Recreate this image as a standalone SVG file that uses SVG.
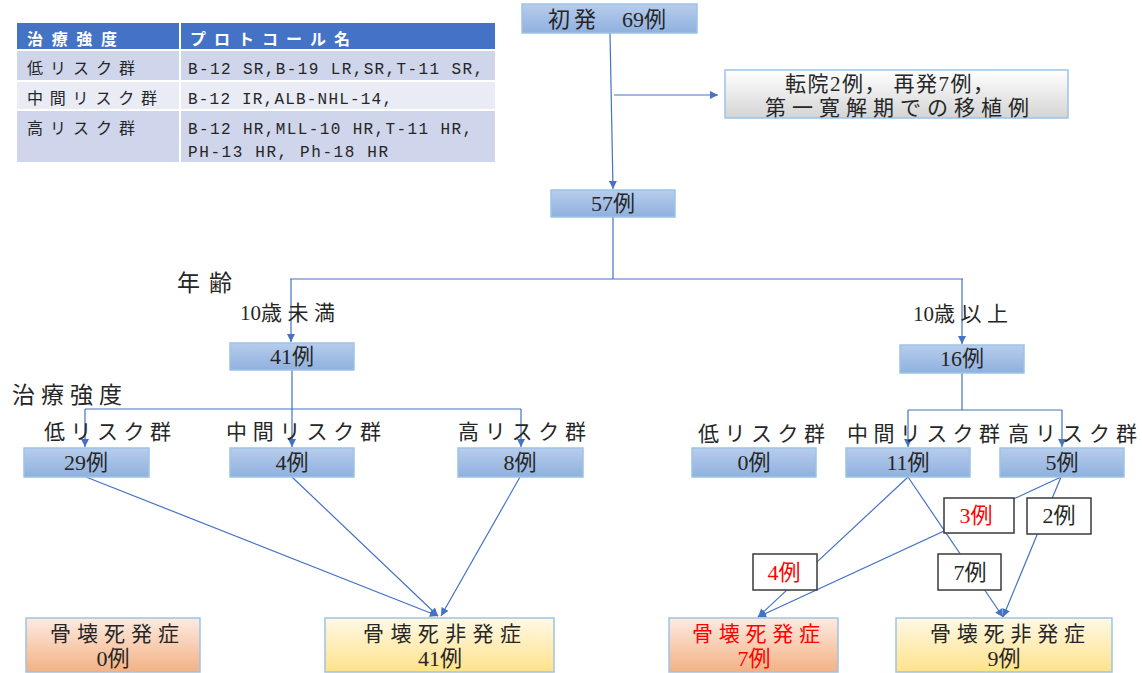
<svg xmlns="http://www.w3.org/2000/svg" width="1142" height="673" viewBox="0 0 1142 673">
<style>
.t{font-family:"Liberation Serif","Noto Sans CJK JP",serif;fill:#262626;font-size:21px}
.n{font-size:22px}
.m{text-anchor:middle}
.r{fill:#FF0000}
.th{font-family:"Noto Sans CJK JP",sans-serif;font-size:16px;fill:#fff;font-weight:bold}
.tc{font-family:"Noto Sans CJK JP",sans-serif;font-size:16px;fill:#262626}
.tm{font-family:"Liberation Mono",monospace;font-size:16px;fill:#262626}
.bn{fill:url(#gB);stroke:#9DC3E6;stroke-width:1.5}
.c{stroke:#4472C4;stroke-width:1.2;fill:none}
.ca{stroke:#4472C4;stroke-width:1.2;fill:none;marker-end:url(#ah)}
.lb{fill:#fff;stroke:#3a3a3a;stroke-width:1.5}
</style>
<defs>
<linearGradient id="gB" x1="0" y1="0" x2="0" y2="1"><stop offset="0" stop-color="#B7CDEC"/><stop offset="1" stop-color="#8FB0DE"/></linearGradient>
<linearGradient id="gG" x1="0" y1="0" x2="0" y2="1"><stop offset="0" stop-color="#FFFFFF"/><stop offset="1" stop-color="#D4D4D4"/></linearGradient>
<linearGradient id="gO" x1="0" y1="0" x2="0" y2="1"><stop offset="0" stop-color="#FCEBE2"/><stop offset="1" stop-color="#F4B183"/></linearGradient>
<linearGradient id="gY" x1="0" y1="0" x2="0" y2="1"><stop offset="0" stop-color="#FFF9E6"/><stop offset="1" stop-color="#FFE28A"/></linearGradient>
<marker id="ah" viewBox="0 0 10 10" refX="10" refY="5" markerWidth="9" markerHeight="8" markerUnits="userSpaceOnUse" orient="auto"><path d="M0,0 L10,5 L0,10 z" fill="#4472C4"/></marker>
</defs>
<rect width="1142" height="673" fill="#fff"/>

<g id="table">
<rect x="17" y="23" width="162" height="26" fill="#4472C4"/>
<rect x="181" y="23" width="314" height="26" fill="#4472C4"/>
<rect x="17" y="51" width="162" height="29" fill="#CFD5EA"/>
<rect x="181" y="51" width="314" height="29" fill="#CFD5EA"/>
<rect x="17" y="82" width="162" height="27" fill="#E9EBF5"/>
<rect x="181" y="82" width="314" height="27" fill="#E9EBF5"/>
<rect x="17" y="111" width="162" height="51" fill="#CFD5EA"/>
<rect x="181" y="111" width="314" height="51" fill="#CFD5EA"/>
<text class="th" x="27" y="45" textLength="90" lengthAdjust="spacing">治療強度</text>
<text class="th" x="190" y="45" textLength="160" lengthAdjust="spacing">プロトコール名</text>
<text class="tc" x="27" y="74" textLength="108" lengthAdjust="spacing">低リスク群</text>
<text class="tm" x="188" y="74" textLength="295" lengthAdjust="spacing">B-12 SR,B-19 LR,SR,T-11 SR,</text>
<text class="tc" x="27" y="104" textLength="130" lengthAdjust="spacing">中間リスク群</text>
<text class="tm" x="188" y="104" textLength="204" lengthAdjust="spacing">B-12 IR,ALB-NHL-14,</text>
<text class="tc" x="27" y="134" textLength="108" lengthAdjust="spacing">高リスク群</text>
<text class="tm" x="188" y="134" textLength="284" lengthAdjust="spacing">B-12 HR,MLL-10 HR,T-11 HR,</text>
<text class="tm" x="188" y="157" textLength="200" lengthAdjust="spacing">PH-13 HR, Ph-18 HR</text>
</g>

<g id="connectors">
<path class="ca" d="M610,33 L613,189"/>
<path class="ca" d="M614,95 L718,95"/>
<path class="c" d="M613,217 L613,279 M290,279 L963,279"/>
<path class="ca" d="M291,279 L291,342"/>
<path class="ca" d="M962,279 L962,344"/>
<path class="c" d="M292,370 L292,409 M85,409 L521,409"/>
<path class="ca" d="M85,409 L85,447"/>
<path class="ca" d="M292,409 L292,447"/>
<path class="ca" d="M521,409 L521,447"/>
<path class="c" d="M962,373 L962,410 M908,410 L1062,410"/>
<path class="ca" d="M908,410 L908,447"/>
<path class="ca" d="M1062,410 L1062,447"/>
<path class="ca" d="M86,477 L438,616"/>
<path class="ca" d="M292,477 L438,616"/>
<path class="ca" d="M520,477 L441,616"/>
<path class="ca" d="M908,477 L758,617"/>
<path class="ca" d="M908,477 L1003,617"/>
<path class="ca" d="M1061,477 L758,617"/>
<path class="ca" d="M1061,477 L1003,617"/>
</g>

<g id="edge-labels">
<g id="lbl-3"><rect class="lb" x="944" y="498" width="70" height="35"/><text class="t n m r" x="976" y="523">3例</text></g>
<g id="lbl-2"><rect class="lb" x="1027" y="498" width="64" height="36"/><text class="t n m" x="1059" y="523">2例</text></g>
<g id="lbl-4"><rect class="lb" x="753" y="554" width="64" height="36"/><text class="t n m r" x="784" y="580">4例</text></g>
<g id="lbl-7"><rect class="lb" x="938" y="554" width="63" height="36"/><text class="t n m" x="970" y="580">7例</text></g>
</g>

<g id="n-initial"><rect class="bn" x="522" y="4" width="175" height="29"/><text class="t n" x="548" y="27"><tspan letter-spacing="4">初発</tspan><tspan x="622">69例</tspan></text></g>
<g id="n-excluded"><rect x="725" y="70" width="343" height="48" fill="url(#gG)" stroke="#9DC3E6" stroke-width="1.5"/>
<text class="t" x="785" y="91" textLength="209" lengthAdjust="spacing">転院2例， 再発7例，</text>
<text class="t" x="765" y="115" textLength="264" lengthAdjust="spacing">第一寛解期での移植例</text></g>
<g id="n-57"><rect class="bn" x="551" y="190" width="124" height="27"/><text class="t n m" x="613" y="211">57例</text></g>

<g id="labels">
<text class="t" x="177" y="291" textLength="55" lengthAdjust="spacing" style="font-size:23px">年齢</text>
<text class="t" x="240" y="320">10<tspan letter-spacing="5.5">歳未満</tspan></text>
<text class="t" x="913" y="321">10<tspan letter-spacing="5.5">歳以上</tspan></text>
<text class="t" x="12" y="403" textLength="110" lengthAdjust="spacing" style="font-size:23px">治療強度</text>
<text class="t" x="44" y="439" textLength="127" lengthAdjust="spacing">低リスク群</text>
<text class="t" x="226" y="439" textLength="155" lengthAdjust="spacing">中間リスク群</text>
<text class="t" x="458" y="439" textLength="128" lengthAdjust="spacing">高リスク群</text>
<text class="t" x="698" y="441" textLength="127" lengthAdjust="spacing">低リスク群</text>
<text class="t" x="847" y="441" textLength="153" lengthAdjust="spacing">中間リスク群</text>
<text class="t" x="1008" y="441" textLength="129" lengthAdjust="spacing">高リスク群</text>
</g>

<g id="n-41"><rect class="bn" x="230" y="343" width="124" height="27"/><text class="t n m" x="292" y="364">41例</text></g>
<g id="n-16"><rect class="bn" x="900" y="345" width="124" height="28"/><text class="t n m" x="962" y="366">16例</text></g>
<g id="n-29"><rect class="bn" x="24" y="448" width="125" height="29"/><text class="t n m" x="86" y="470">29例</text></g>
<g id="n-4"><rect class="bn" x="230" y="448" width="124" height="29"/><text class="t n m" x="292" y="470">4例</text></g>
<g id="n-8"><rect class="bn" x="458" y="448" width="125" height="29"/><text class="t n m" x="520" y="470">8例</text></g>
<g id="n-0"><rect class="bn" x="692" y="448" width="124" height="29"/><text class="t n m" x="754" y="470">0例</text></g>
<g id="n-11"><rect class="bn" x="846" y="448" width="124" height="29"/><text class="t n m" x="908" y="470">11例</text></g>
<g id="n-5"><rect class="bn" x="1000" y="448" width="124" height="29"/><text class="t n m" x="1062" y="470">5例</text></g>

<g id="n-onset-left"><rect x="26" y="618" width="174" height="54" fill="url(#gO)" stroke="#9DC3E6" stroke-width="1.5"/>
<text class="t" x="50" y="641" textLength="129" lengthAdjust="spacing">骨壊死発症</text><text class="t n m" x="113" y="666">0例</text></g>
<g id="n-nononset-left"><rect x="325" y="618" width="229" height="54" fill="url(#gY)" stroke="#9DC3E6" stroke-width="1.5"/>
<text class="t" x="363" y="641" textLength="158" lengthAdjust="spacing">骨壊死非発症</text><text class="t n m" x="440" y="666">41例</text></g>
<g id="n-onset-right"><rect x="669" y="618" width="169" height="54" fill="url(#gO)" stroke="#9DC3E6" stroke-width="1.5"/>
<text class="t r" x="692" y="641" textLength="128" lengthAdjust="spacing">骨壊死発症</text><text class="t n m r" x="754" y="666">7例</text></g>
<g id="n-nononset-right"><rect x="896" y="618" width="216" height="54" fill="url(#gY)" stroke="#9DC3E6" stroke-width="1.5"/>
<text class="t" x="930" y="641" textLength="155" lengthAdjust="spacing">骨壊死非発症</text><text class="t n m" x="1004" y="666">9例</text></g>
</svg>
